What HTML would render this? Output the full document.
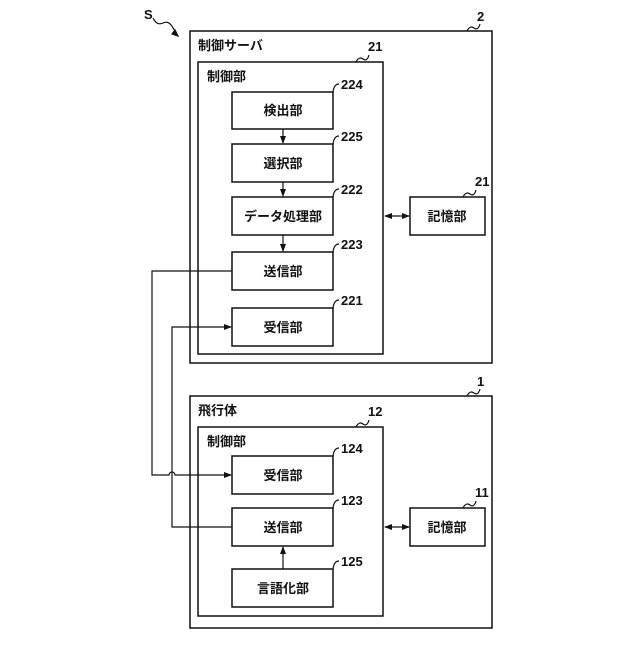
<!DOCTYPE html>
<html><head><meta charset="utf-8"><style>
body{margin:0;background:#fff}
text{font-family:"Liberation Sans","Noto Sans CJK JP",sans-serif;font-weight:bold;fill:#111}
</style></head><body>
<svg width="640" height="640" viewBox="0 0 640 640" xmlns="http://www.w3.org/2000/svg">
<defs><marker id="a" markerWidth="8" markerHeight="8" refX="7" refY="4" orient="auto-start-reverse" markerUnits="userSpaceOnUse"><path d="M0,1 L8,4 L0,7 z" fill="#111"/></marker></defs>
<g fill="none" stroke="#111" stroke-width="1.5">
<rect x="190" y="31" width="302" height="332"/>
<rect x="198" y="62" width="185" height="292"/>
<rect x="232" y="92" width="101" height="37"/>
<rect x="232" y="144" width="101" height="38"/>
<rect x="232" y="197" width="101" height="38"/>
<rect x="232" y="252" width="101" height="38"/>
<rect x="232" y="308" width="101" height="38"/>
<rect x="410" y="197" width="75" height="38"/>
<rect x="190" y="396" width="302" height="232"/>
<rect x="198" y="427" width="185" height="189"/>
<rect x="232" y="456" width="101" height="38"/>
<rect x="232" y="508" width="101" height="38"/>
<rect x="232" y="569" width="101" height="38"/>
<rect x="410" y="508" width="75" height="38"/>
</g>
<g fill="none" stroke="#111" stroke-width="1.2">
<line x1="283" y1="129" x2="283" y2="143" marker-end="url(#a)"/>
<line x1="283" y1="182" x2="283" y2="196" marker-end="url(#a)"/>
<line x1="283" y1="235" x2="283" y2="251" marker-end="url(#a)"/>
<line x1="283" y1="569" x2="283" y2="547" marker-end="url(#a)"/>
<line x1="385" y1="216" x2="409" y2="216" marker-start="url(#a)" marker-end="url(#a)"/>
<line x1="385" y1="527" x2="409" y2="527" marker-start="url(#a)" marker-end="url(#a)"/>
<path d="M232,271 H152 V475 H169 A3,3 0 0 1 175,475 H231" marker-end="url(#a)"/>
<path d="M232,527 H172 V327 H231" marker-end="url(#a)"/>
<path d="M153,18 q4,8 10,5 t10,5 l3,4"/>
<path d="M178,36 l-6,-2 l3,-4 z" fill="#111"/>
<path d="M467,31 q3,-6 7,-3 t6,-4"/>
<path d="M356,62 q3,-6 7,-3 t6,-4"/>
<path d="M333,92 q1,-8 6,-8"/>
<path d="M333,144 q1,-8 6,-8"/>
<path d="M333,197 q1,-8 6,-8"/>
<path d="M333,252 q1,-8 6,-8"/>
<path d="M333,308 q1,-8 6,-8"/>
<path d="M463,197 q3,-6 7,-3 t6,-4"/>
<path d="M467,396 q3,-6 7,-3 t6,-4"/>
<path d="M356,427 q3,-6 7,-3 t6,-4"/>
<path d="M333,456 q1,-8 6,-8"/>
<path d="M333,508 q1,-8 6,-8"/>
<path d="M333,569 q1,-8 6,-8"/>
<path d="M463,508 q3,-6 7,-3 t6,-4"/>
</g>
<g font-size="13">
<text x="144" y="19">S</text>
<text x="477" y="21">2</text>
<text x="368" y="51">21</text>
<text x="475" y="186">21</text>
<text x="341" y="89">224</text>
<text x="341" y="141">225</text>
<text x="341" y="194">222</text>
<text x="341" y="249">223</text>
<text x="341" y="305">221</text>
<text x="477" y="386">1</text>
<text x="368" y="416">12</text>
<text x="475" y="497">11</text>
<text x="341" y="453">124</text>
<text x="341" y="505">123</text>
<text x="341" y="566">125</text>
</g>
<g font-size="13">
<text x="198" y="50">制御サーバ</text>
<text x="207" y="81">制御部</text>
<text x="198" y="415">飛行体</text>
<text x="207" y="446">制御部</text>
</g>
<g font-size="13" text-anchor="middle">
<text x="283" y="115">検出部</text>
<text x="283" y="168">選択部</text>
<text x="283" y="221">データ処理部</text>
<text x="283" y="276">送信部</text>
<text x="283" y="332">受信部</text>
<text x="447" y="221">記憶部</text>
<text x="283" y="480">受信部</text>
<text x="283" y="532">送信部</text>
<text x="283" y="593">言語化部</text>
<text x="447" y="532">記憶部</text>
</g>
</svg>
</body></html>
